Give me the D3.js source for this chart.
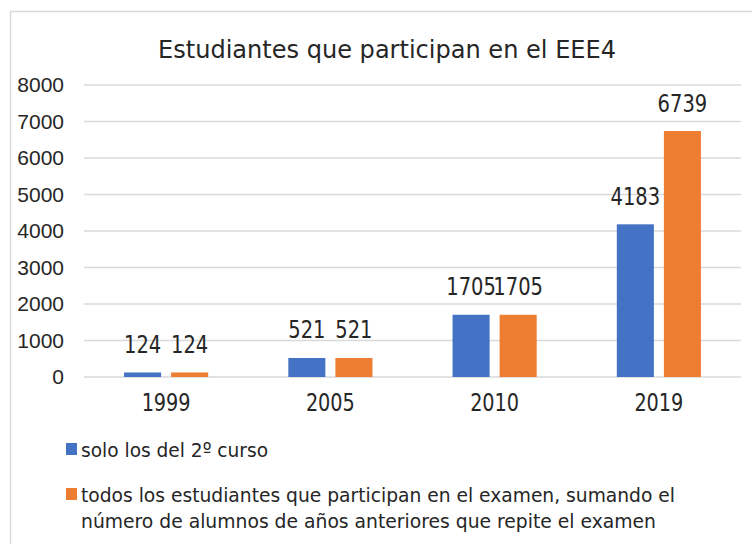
<!DOCTYPE html>
<html>
<head>
<meta charset="utf-8">
<script src="https://cdn.jsdelivr.net/npm/d3@7"></script>
<style>
  body { margin: 0; background: #fff; }
  svg { display: block; }
  .lbl { font-family: "Liberation Sans Narrow", "DejaVu Sans Condensed", "Liberation Sans", sans-serif; fill: #262626; }
  .tick text { font-family: "Liberation Sans", Arial, sans-serif; }
</style>
</head>
<body>
<div id="chart"></div>
<script>
const categories = [`1999`, `2005`, `2010`, `2019`];
const series = [
  [`solo los del 2º curso`],
  [`todos los estudiantes que participan en el examen, sumando el`, `número de alumnos de años anteriores que repite el examen`]
];
const soloSegundo = [124, 521, 1705, 4183];
const todos = [124, 521, 1705, 6739];
const yTicks = [0, 1000, 2000, 3000, 4000, 5000, 6000, 7000, 8000];
const colors = [`#4472C4`, `#ED7D31`];
const title = `Estudiantes que participan en el EEE4`;

const width = 752, height = 544;
const margin = { top: 85, left: 84, right: 11, bottom: 167 };

const svg = d3.select(`#chart`).append(`svg`)
    .attr(`width`, width)
    .attr(`height`, height);

// squeeze text to the widths measured on the reference (narrow font there)
const fit = (sel, w) => sel.attr(`textLength`, w).attr(`lengthAdjust`, `spacingAndGlyphs`);

// chart frame, runs past the right and bottom edge
svg.append(`rect`)
    .attr(`x`, 10.5).attr(`y`, 11.5)
    .attr(`width`, 800).attr(`height`, 600)
    .attr(`fill`, `#fff`)
    .attr(`stroke`, `#d9d9d9`)
    .attr(`stroke-width`, 1.5);

svg.append(`text`)
    .attr(`class`, `lbl`)
    .attr(`x`, 158).attr(`y`, 58)
    .style(`font-size`, `24px`)
    .text(title)
    .call(fit, 458);

const x = d3.scaleBand()
    .domain(categories)
    .range([margin.left, width - margin.right]);

const x1 = d3.scaleBand()
    .domain([0, 1])
    .range([0, x.bandwidth()])
    .paddingInner(0.213)
    .paddingOuter(0.851);

const y = d3.scaleLinear()
    .domain([0, 8000])
    .range([height - margin.bottom, margin.top]);

// grid
svg.append(`g`)
  .selectAll(`line`)
  .data(yTicks)
  .enter().append(`line`)
    .attr(`x1`, margin.left).attr(`x2`, width - margin.right)
    .attr(`y1`, (d) => y(d)).attr(`y2`, (d) => y(d))
    .attr(`stroke`, `#d9d9d9`)
    .attr(`stroke-width`, 1.5);

const yAxis = svg.append(`g`)
    .attr(`transform`, `translate(${margin.left - 20},0)`)
    .call(d3.axisLeft(y).tickValues(yTicks).tickSize(0).tickPadding(0).tickFormat(d3.format(`d`)));
yAxis.select(`.domain`).remove();
yAxis.selectAll(`text`).style(`font-size`, `21px`).attr(`fill`, `#262626`);

// category labels
svg.append(`g`)
  .selectAll(`text`)
  .data(categories)
  .enter().append(`text`)
    .attr(`class`, `lbl`)
    .attr(`x`, (d) => x(d) + x.bandwidth() / 2 - 24.5)
    .attr(`y`, y(0) + 34)
    .style(`font-size`, `25px`)
    .text((d) => d)
    .call(fit, 49);

const data = categories.map((c, i) => ({ cat: c, vals: [soloSegundo[i], todos[i]] }));

const groups = svg.append(`g`)
  .selectAll(`g`)
  .data(data)
  .enter().append(`g`)
    .attr(`transform`, (d) => `translate(${x(d.cat)},0)`);

groups.selectAll(`rect`)
    .data((d) => d.vals.map((v, k) => ({ v, k })))
  .enter().append(`rect`)
    .attr(`x`, (d) => x1(d.k))
    .attr(`width`, x1.bandwidth())
    .attr(`y`, (d) => y(d.v))
    .attr(`height`, (d) => y(0) - y(d.v))
    .attr(`fill`, (d) => colors[d.k]);

groups.selectAll(`text`)
    .data((d) => d.vals.map((v, k) => ({ v, k, w: String(v).length * 12.4 })))
  .enter().append(`text`)
    .attr(`class`, `lbl`)
    .attr(`x`, (d) => x1(d.k) + x1.bandwidth() / 2 - d.w / 2)
    .attr(`y`, (d) => y(d.v) - 19.5)
    .style(`font-size`, `25px`)
    .text((d) => d.v)
    .each(function(d) { d3.select(this).call(fit, d.w); });

// legend
const legendY = [457, 502];
const legendW = [[187], [594, 575]];
series.forEach((lines, i) => {
  svg.append(`rect`)
      .attr(`x`, 66).attr(`y`, legendY[i] - 14)
      .attr(`width`, 11).attr(`height`, 12)
      .attr(`fill`, colors[i]);
  lines.forEach((line, j) => {
    svg.append(`text`)
        .attr(`class`, `lbl`)
        .attr(`x`, 81).attr(`y`, legendY[i] + j * 26)
        .style(`font-size`, `20px`)
        .text(line)
        .call(fit, legendW[i][j]);
  });
});
</script>
</body>
</html>
